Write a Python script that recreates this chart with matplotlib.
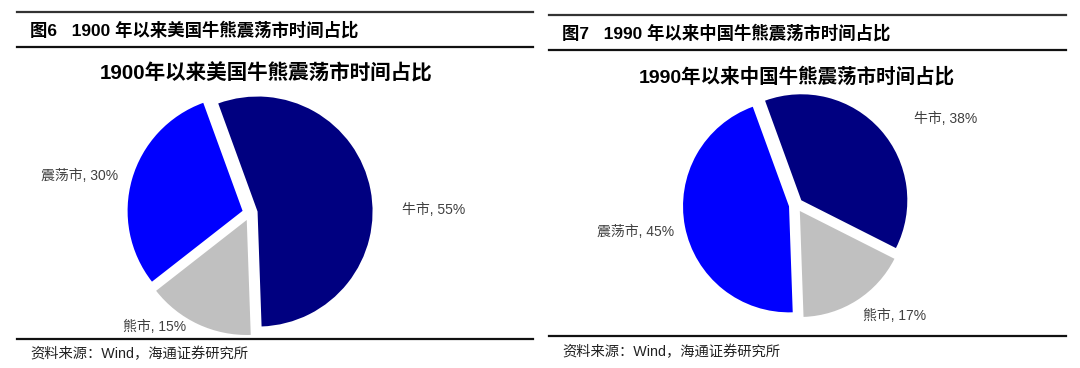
import matplotlib.pyplot as plt
from matplotlib.lines import Line2D

W, H = 1080, 368

# data
categories = ['牛市', '熊市', '震荡市']
us_share = [55, 15, 30]
cn_share = [38, 17, 45]
colors = ['#000080', '#C0C0C0', '#0000FF']

FONT = ['Liberation Sans', 'Noto Sans CJK SC', 'DejaVu Sans']
plt.rcParams['font.family'] = FONT

fig = plt.figure(figsize=(W / 100, H / 100), dpi=100)


def px(x, y):
    # pixel coords (top-left origin) -> figure fraction
    return x / W, 1 - y / H


def hline(x0, x1, y, lw, color):
    a, b = px(x0, y)
    c, _ = px(x1, y)
    fig.add_artist(Line2D([a, c], [b, b], transform=fig.transFigure,
                          lw=lw, color=color))


def draw_pie(cx, cy, r, values, title, tx, ty, tsize, label_pos):
    k = 1.35
    half = r * k
    ax = fig.add_axes([(cx - half) / W, 1 - (cy + half) / H,
                       2 * half / W, 2 * half / H])
    ax.pie(values, colors=colors, startangle=110, counterclock=False,
           explode=[0.067] * len(values), radius=1,
           wedgeprops=dict(linewidth=0))
    ax.set_xlim(-k, k)
    ax.set_ylim(-k, k)
    ax.set_aspect('equal')
    ax.axis('off')
    for name, v, (lx, ly) in zip(categories, values, label_pos):
        ax.text(lx, ly, f'{name}, {v}%', ha='center', va='center',
                fontsize=10, color='#404040')
    x, y = px(tx, ty)
    fig.text(x, y, title, ha='center', va='center', fontsize=tsize,
             fontweight='bold', color='black')


draw_pie(250, 213, 115, us_share, '1900年以来美国牛熊震荡市时间占比', 266, 73, 14.8,
         [(1.60, 0.03), (-0.83, -0.99), (-1.48, 0.32)])
draw_pie(796, 205, 106, cn_share, '1990年以来中国牛熊震荡市时间占比', 797, 77, 14,
         [(1.41, 0.81), (0.93, -1.05), (-1.51, -0.25)])

# header / footer rules
hline(17, 533, 12, 1.6, '#333333')
hline(17, 533, 47, 1.6, '#111111')
hline(17, 533, 339, 1.6, '#111111')
hline(549, 1066, 15, 1.6, '#333333')
hline(549, 1066, 50, 1.6, '#111111')
hline(549, 1066, 336, 1.6, '#111111')

x, y = px(30, 30)
fig.text(x, y, '图6   1900 年以来美国牛熊震荡市时间占比', ha='left', va='center',
         fontsize=12.5, fontweight='bold')
x, y = px(562, 33)
fig.text(x, y, '图7   1990 年以来中国牛熊震荡市时间占比', ha='left', va='center',
         fontsize=12.5, fontweight='bold')

x, y = px(30, 354)
fig.text(x, y, '资料来源：Wind，海通证券研究所', ha='left', va='center',
         fontsize=10.3, color='#222222')
x, y = px(562, 352)
fig.text(x, y, '资料来源：Wind，海通证券研究所', ha='left', va='center',
         fontsize=10.3, color='#222222')

fig.savefig('out.png', dpi=100)
